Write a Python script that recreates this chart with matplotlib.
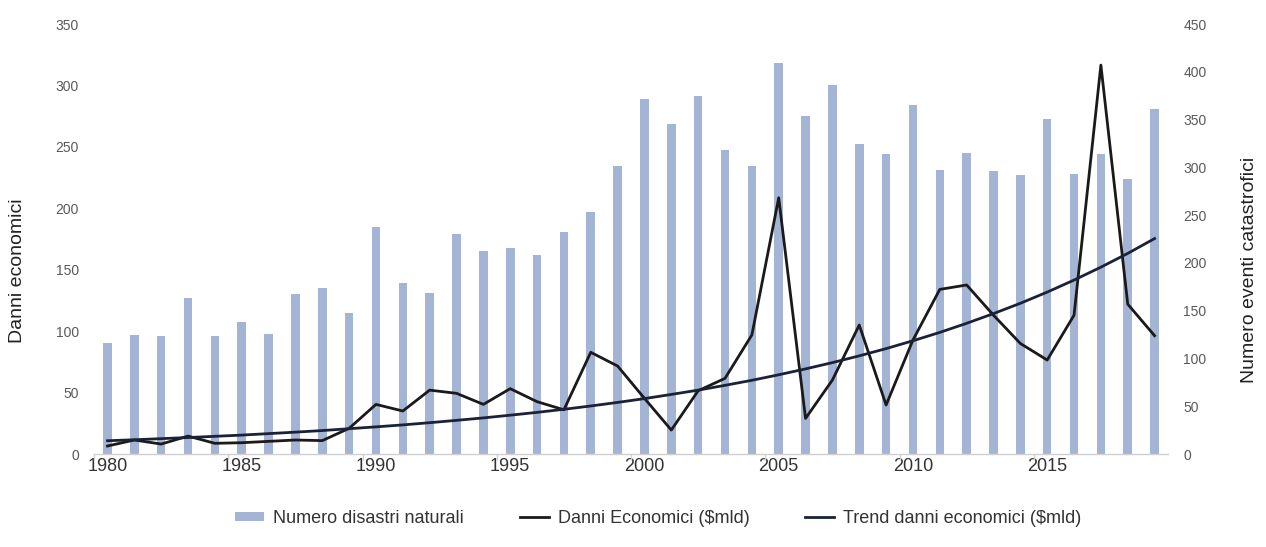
import matplotlib
matplotlib.use("Agg")
import matplotlib.pyplot as plt
from matplotlib.patches import Patch
from matplotlib.lines import Line2D

plt.rcParams['font.family'] = ['Liberation Sans', 'DejaVu Sans']

years = list(range(1980, 2020))

# Numero disastri naturali (right axis)
disastri = [116, 125, 123, 163, 123, 138, 126, 167, 174, 148,
            238, 179, 168, 230, 213, 216, 208, 232, 253, 301,
            372, 345, 375, 318, 301, 409, 354, 386, 324, 314,
            365, 297, 315, 296, 292, 351, 293, 314, 288, 361]

# Danni Economici ($mld) (left axis)
danni = [6.5, 11.4, 8.1, 14.6, 8.7, 9.2, 10.3, 11.4, 10.9, 20.9,
         40.4, 35.0, 52.0, 49.4, 40.4, 53.2, 42.6, 36.0, 82.8, 71.6,
         45.3, 19.5, 51.5, 61.6, 96.9, 208.6, 29.0, 60.2, 105.0, 39.9,
         92.8, 134.0, 137.6, 113.0, 90.0, 76.5, 113.0, 316.6, 122.0, 96.3]

# Trend danni economici ($mld) (left axis)
trend = [10.8, 11.6, 12.5, 13.4, 14.4, 15.4, 16.6, 17.8, 19.1, 20.6,
         22.1, 23.7, 25.5, 27.4, 29.4, 31.6, 33.9, 36.4, 39.1, 42.0,
         45.1, 48.5, 52.0, 55.9, 60.0, 64.5, 69.3, 74.4, 79.9, 85.8,
         92.2, 99.0, 106.4, 114.3, 122.7, 131.8, 141.6, 152.1, 163.3, 175.4]

left_ticks = [0, 50, 100, 150, 200, 250, 300, 350]
right_ticks = [0, 50, 100, 150, 200, 250, 300, 350, 400, 450]
x_labels = [1980, 1985, 1990, 1995, 2000, 2005, 2010, 2015]

bar_color = '#A3B4D4'
line_color = '#1A1A1A'
trend_color = '#1B2238'
tick_color = '#595959'

fig = plt.figure(figsize=(12.66, 5.47), dpi=100)
ax = fig.add_axes([0.0743, 0.170, 0.8483, 0.786])
ax2 = ax.twinx()

ax2.bar(years, disastri, width=0.32, color=bar_color, zorder=1)
ax.plot(years, danni, color=line_color, lw=2.0, zorder=3)
ax.plot(years, trend, color=trend_color, lw=2.0, zorder=3)

ax.set_zorder(ax2.get_zorder() + 1)
ax.patch.set_visible(False)

ax.set_xlim(1979.5, 2019.5)
ax.set_ylim(0, 350)
ax2.set_ylim(0, 450)
ax.set_yticks(left_ticks)
ax2.set_yticks(right_ticks)

for a in (ax, ax2):
    for s in ('top', 'left', 'right', 'bottom'):
        a.spines[s].set_visible(False)
ax.spines['bottom'].set_visible(True)
ax.spines['bottom'].set_color('#D0D0D0')
ax.spines['bottom'].set_linewidth(1.0)

ax.tick_params(axis='y', length=0, labelsize=10, labelcolor=tick_color, pad=11)
ax2.tick_params(axis='y', length=0, labelsize=10, labelcolor=tick_color, pad=11)

ax.set_xticks(x_labels)
ax.set_xticklabels([str(v) for v in x_labels])
ax.set_xticks([v - 0.5 for v in x_labels], minor=True)
ax.tick_params(axis='x', which='major', length=0, labelsize=13, labelcolor='#333333', pad=3)
ax.tick_params(axis='x', which='minor', length=4, color='#D0D0D0', width=1)

fig.text(18 / 1266, 1 - 271 / 547, 'Danni economici', rotation=90, fontsize=14,
         color='#222222', ha='center', va='center')
fig.text(1250 / 1266, 1 - 270 / 547, 'Numero eventi catastrofici', rotation=90, fontsize=14,
         color='#222222', ha='center', va='center')

handles = [Patch(facecolor=bar_color, edgecolor='none'),
           Line2D([0], [0], color=line_color, lw=2),
           Line2D([0], [0], color=trend_color, lw=2)]
labels = ['Numero disastri naturali', 'Danni Economici ($mld)', 'Trend danni economici ($mld)']
leg = fig.legend(handles, labels, loc='center', bbox_to_anchor=(0.52, 0.052), ncol=3,
                 frameon=False, fontsize=13, handlelength=1.6, handleheight=0.45,
                 columnspacing=3.1, handletextpad=0.5)
for t in leg.get_texts():
    t.set_color('#333333')

fig.savefig('out.png', dpi=100)
